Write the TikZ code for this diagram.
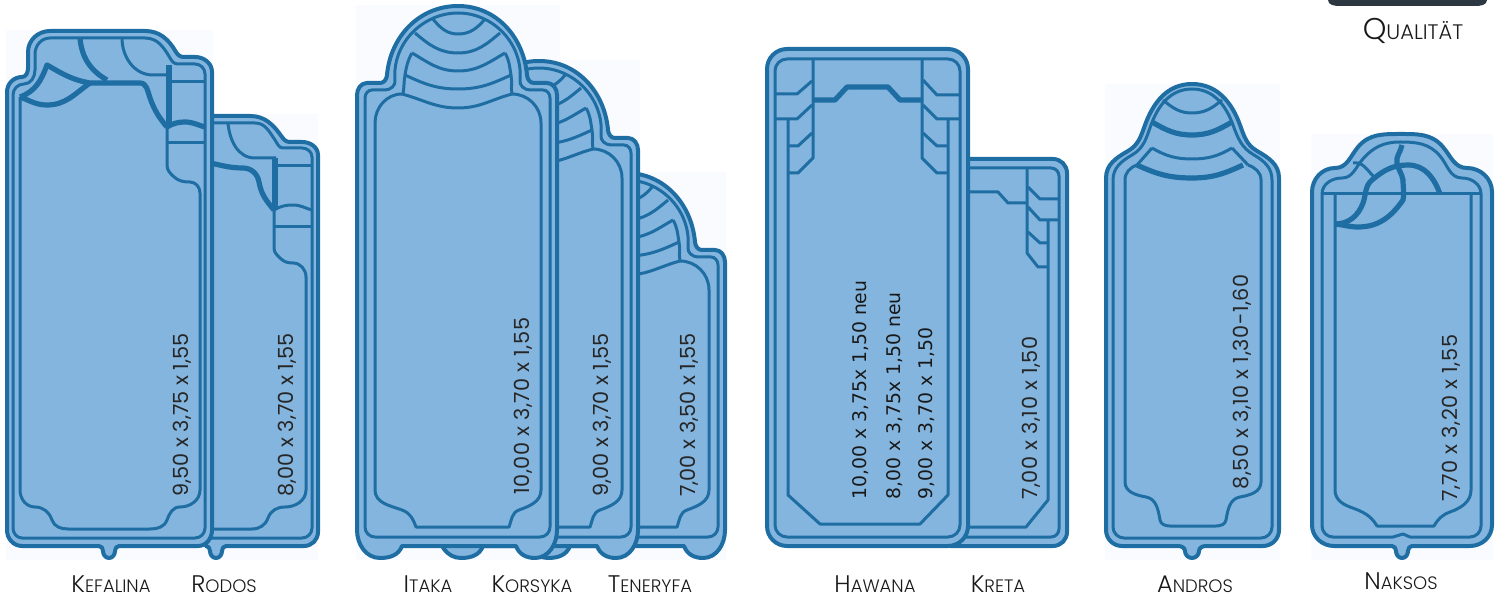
\documentclass[tikz,border=0pt]{standalone}
\usepackage{fontspec}
\setmainfont{Poppins}[UprightFont=* Light]
\newfontfamily\dimfont{Poppins}
\newfontfamily\dimwidefont{Poppins}[LetterSpace=2.4]
\newfontfamily\hawanafont{DejaVu Sans}
\definecolor{poolfill}{HTML}{84B5DE}
\definecolor{poolline}{HTML}{1E6EA3}
\definecolor{paperfill}{HTML}{FAFBFF}
\definecolor{boxdark}{HTML}{2C3742}
\tikzset{
	poolout/.style={draw=poolline,fill=poolfill,line width=2pt,line join=round},
	poolin/.style={draw=poolline,line width=1.5pt,line join=round},
	poolthick/.style={draw=poolline,line width=2.6pt,line join=round},
	dimtext/.style={rotate=90,anchor=west,inner sep=0pt,text=black!85,font=\dimfont\fontsize{10.4}{12}\selectfont},
	dimwide/.style={dimtext,font=\dimwidefont\fontsize{10.4}{12}\selectfont},
	hawanatext/.style={rotate=90,anchor=west,inner sep=0pt,text=black!90,font=\hawanafont\fontsize{9.4}{11}\selectfont},
	poolname/.style={inner sep=0pt,text=black!90}
}
\newcommand{\capname}[2]{{\fontsize{12}{14}\selectfont #1}{\fontsize{9}{14}\selectfont #2}}
\newcommand{\archpool}[2]{
	\begin{scope}[shift={(#1,#2)}]
		\draw[poolout] (357,95) to[out=90,in=180] (367,83) -- (380,83) to[out=0,in=-95] (387,75) to[out=85,in=180] (458,6) to[out=0,in=95] (527,75) to[out=-85,in=180] (534,83) -- (547,83) to[out=0,in=90] (557,95) -- (557,{530-#2}) to[out=-90,in=0] (535,{558-#2}) to[out=180,in=-70] (516,{546-#2}) -- (402,{546-#2}) to[out=-110,in=0] (380,{558-#2}) to[out=180,in=-90] (357,{530-#2}) -- cycle;
		\draw[poolin] (365,98) to[out=90,in=180] (372,90) -- (385,90) to[out=0,in=-80] (395,80) to[out=95,in=180] (458,13) to[out=0,in=85] (520,80) to[out=-100,in=180] (530,90) -- (543,90) to[out=0,in=90] (550,98) -- (550,{527-#2}) to[out=-90,in=0] (540,{537-#2}) -- (375,{537-#2}) to[out=180,in=-90] (365,{527-#2}) -- cycle;
		\draw[poolin] (375,{490-#2}) -- (375,123) to[out=90,in=180] (402,94) to[out=-15,in=180] (458,108) to[out=0,in=195] (512,94) to[out=0,in=90] (541,123) -- (541,{490-#2}) to[out=-90,in=20] (519,{510-#2}) to[out=-160,in=70] (509,{527-#2}) -- (416,{527-#2}) to[out=110,in=-20] (402,{510-#2}) to[out=160,in=-90] (375,{490-#2});
		\draw[poolin] (432,18) to[out=-50,in=180] (458,34) to[out=0,in=-130] (485,19);
		\draw[poolin] (415,33) to[out=-40,in=180] (458,53) to[out=0,in=-140] (500,33);
		\draw[poolin] (403,94) to[out=80,in=-100] (405,75) to[out=80,in=-120] (412,53);
		\draw[poolin] (512,94) to[out=100,in=-80] (511,75) to[out=100,in=-60] (505,53);
		\draw[poolin] (412,53) to[out=-30,in=180] (458,71) to[out=0,in=-150] (505,53);
		\draw[poolin] (405,75) to[out=-25,in=180] (458,89) to[out=0,in=-155] (511,75);
	\end{scope}
}
\begin{document}
\begin{tikzpicture}[x=0.5pt,y=-0.5pt]
	\useasboundingbox (0,0) rectangle (1498,598);
	\fill[paperfill] (6,30) rectangle (213,560);
	\fill[paperfill] (213,114) rectangle (318,560);
	\fill[paperfill] (356,5) rectangle (560,560);
	\fill[paperfill] (560,60) rectangle (640,560);
	\fill[paperfill] (640,172) rectangle (726,560);
	\fill[paperfill] (1105,84) rectangle (1280,560);
	\fill[paperfill] (1311,134) rectangle (1493,560);

	% rodos
	\draw[poolout] (205,116) -- (250,116) to[out=0,in=125] (282,137) to[out=-55,in=180] (290,142) -- (302,142) to[out=0,in=90] (318,155) -- (318,532) to[out=-90,in=0] (304,546) -- (226,546) to[out=180,in=90] (222,551) to[out=-90,in=0] (216,558) to[out=180,in=-90] (210,551) to[out=90,in=0] (206,546) -- cycle;
	\draw[poolin] (205,123) -- (255,123) to[out=0,in=125] (275,140) to[out=-55,in=180] (283,148) -- (302,148) to[out=0,in=90] (312,157) -- (312,528) to[out=-90,in=0] (302,538) -- (205,538);
	\draw[poolin] (205,529) -- (252,529) to[out=0,in=-110] (268,518) to[out=70,in=180] (285,507) to[out=0,in=-90] (306,490) -- (306,277) to[out=90,in=0] (293,263) to[out=180,in=-45] (280,258) to[out=135,in=-90] (274,248) -- (274,210);
	\draw[poolthick] (205,162) to[out=-10,in=180] (243,168) to[out=0,in=100] (259,182) to[out=-80,in=130] (274,210);
	\draw[poolin] (228,123) to[out=-85,in=180] (255,158) -- (276,158);
	\draw[poolthick] (275,158) -- (275,210);
	\draw[poolin] (278,166) -- (312,166);
	\draw[poolin] (274,210) to[out=30,in=180] (293,205) to[out=0,in=165] (312,210);
	\draw[poolin] (275,227) -- (312,227);

	% kefalina
	\draw[poolout] (7,530) -- (7,92) to[out=90,in=180] (22,77) to[out=0,in=-90] (28,68) -- (28,52) to[out=90,in=180] (50,31) -- (145,31) to[out=0,in=120] (176,52) to[out=-60,in=180] (184,57) -- (195,57) to[out=0,in=90] (212,72) -- (212,530) to[out=-90,in=0] (198,546) -- (119,546) to[out=180,in=90] (115,551) to[out=-90,in=0] (109,558) to[out=180,in=-90] (103,551) to[out=90,in=0] (99,546) -- (22,546) to[out=180,in=-90] (7,530) -- cycle;
	\draw[poolin] (13,528) -- (13,95) to[out=90,in=180] (24,84) to[out=0,in=-90] (35,70) -- (35,54) to[out=90,in=180] (50,38) -- (145,38) to[out=0,in=120] (170,58) to[out=-60,in=180] (178,64) -- (195,64) to[out=0,in=90] (205,74) -- (205,528) to[out=-90,in=0] (195,538) -- (22,538) to[out=180,in=-90] (13,528) -- cycle;
	\draw[poolin] (20,97) -- (20,490) to[out=-90,in=180] (35,507) to[out=0,in=110] (52,520) to[out=-70,in=180] (68,529) -- (150,529) to[out=0,in=-110] (167,520) to[out=70,in=180] (180,507) to[out=0,in=-90] (200,490) -- (200,193) to[out=90,in=0] (190,182) to[out=180,in=-45] (173,176) to[out=135,in=-90] (167,165) -- (167,127);
	\draw[poolthick] (20,97) to[out=20,in=-110] (47,65) to[out=-30,in=170] (90,83) -- (140,83) to[out=0,in=110] (150,98) to[out=-70,in=130] (167,127);
	\draw[poolthick] (20,97) to[out=-20,in=180] (47,105) to[out=0,in=-145] (90,83);
	\draw[poolthick] (80,38) to[out=-85,in=150] (107,80);
	\draw[poolin] (122,38) to[out=-90,in=180] (153,75) -- (170,75);
	\draw[poolthick] (169,65) -- (169,127);
	\draw[poolin] (172,82) -- (205,82);
	\draw[poolthick] (167,127) to[out=30,in=180] (185,122) to[out=0,in=165] (205,127);
	\draw[poolin] (168,143) -- (205,143);

	\archpool{168}{167}
	\archpool{81}{55}
	\archpool{0}{0}

	% kreta
	\draw[poolout,rounded corners=7pt] (950,159) -- (1067,159) -- (1067,546) -- (950,546);
	\draw[poolin,rounded corners=4pt] (950,168) -- (1059,168) -- (1059,537) -- (950,537);
	\draw[poolin] (950,527) -- (1026,527) -- (1048,500) -- (1048,220);
	\draw[poolin] (1027,168) -- (1027,253) -- (1038,267) -- (1048,267);
	\draw[poolin] (1028,187) -- (1040,199) -- (1059,199);
	\draw[poolin] (1028,207) -- (1040,220) -- (1059,220);
	\draw[poolin] (1028,232) -- (1040,243) -- (1048,243);
	\draw[poolin] (950,192) -- (998,192) -- (1008,203) -- (1027,203);

	% hawana
	\draw[poolout,rounded corners=10pt] (767,546) -- (767,49) -- (968,49) -- (968,546) -- cycle;
	\draw[poolin,rounded corners=6pt] (775,537) -- (775,59) -- (960,59) -- (960,537) -- cycle;
	\draw[poolin] (788,119) -- (788,495) -- (820,524) -- (920,524) -- (948,495) -- (948,119);
	\draw[poolin] (813,59) -- (813,158) -- (798,173) -- (788,173);
	\draw[poolin] (922,59) -- (922,158) -- (937,173) -- (948,173);
	\draw[poolin] (776,94) -- (797,94) -- (812,81);
	\draw[poolin] (776,119) -- (797,119) -- (812,105);
	\draw[poolin] (788,146) -- (798,146) -- (812,133);
	\draw[poolin] (923,80) -- (937,95) -- (960,95);
	\draw[poolin] (923,105) -- (937,119) -- (960,119);
	\draw[poolin] (923,133) -- (937,146) -- (948,146);
	\draw[poolthick] (813,100) -- (835,100) -- (847,87) -- (888,87) -- (900,100) -- (922,100);

	% andros
	\draw[poolout] (1106,530) -- (1106,178) to[out=90,in=-150] (1128,151) to[out=30,in=-110] (1145,125) to[out=70,in=180] (1192,84) to[out=0,in=110] (1240,125) to[out=-70,in=150] (1257,151) to[out=-30,in=90] (1279,178) -- (1279,530) to[out=-90,in=0] (1263,546) -- (1206,546) to[out=180,in=90] (1199,551) to[out=-90,in=0] (1192,558) to[out=180,in=-90] (1185,551) to[out=90,in=0] (1178,546) -- (1122,546) to[out=180,in=-90] (1106,530) -- cycle;
	\draw[poolin] (1113,527) -- (1113,180) to[out=90,in=-150] (1132,155) to[out=30,in=-110] (1151,125) to[out=70,in=180] (1192,89) to[out=0,in=110] (1233,125) to[out=-70,in=150] (1254,155) to[out=-30,in=90] (1272,180) -- (1272,527) to[out=-90,in=0] (1261,538) -- (1124,538) to[out=180,in=-90] (1113,527) -- cycle;
	\draw[poolin] (1137,165) to[out=-160,in=90] (1125,180) -- (1125,482) to[out=-90,in=170] (1146,497) to[out=-10,in=100] (1160,520) to[out=-80,in=180] (1170,526) -- (1216,526) to[out=0,in=-100] (1226,520) to[out=80,in=-170] (1240,497) to[out=10,in=-90] (1261,482) -- (1261,180) to[out=90,in=-20] (1248,165);
	\draw[poolthick] (1137,165) to[out=-25,in=180] (1192,178) to[out=0,in=-155] (1243,165);
	\draw[poolin] (1163,100) to[out=-40,in=180] (1192,113) to[out=0,in=-140] (1222,100);
	\draw[poolthick] (1152,122) to[out=-30,in=180] (1192,135) to[out=0,in=-150] (1232,122);
	\draw[poolin] (1152,148) to[out=-30,in=180] (1192,159) to[out=0,in=-150] (1232,148);
	\draw[poolin] (1152,148) -- (1137,165);
	\draw[poolin] (1232,148) -- (1248,165);

	% naksos
	\draw[poolout] (1312,525) -- (1312,192) to[out=90,in=180] (1335,168) to[out=0,in=-130] (1358,147) to[out=50,in=180] (1400,134) to[out=0,in=130] (1443,147) to[out=-50,in=180] (1467,168) to[out=0,in=90] (1492,192) -- (1492,525) to[out=-90,in=0] (1470,546) -- (1412,546) to[out=180,in=90] (1408,551) to[out=-90,in=0] (1402,558) to[out=180,in=-90] (1396,551) to[out=90,in=0] (1392,546) -- (1334,546) to[out=180,in=-90] (1312,525) -- cycle;
	\draw[poolin] (1322,194) to[out=90,in=180] (1342,178) to[out=0,in=-130] (1362,160) to[out=50,in=180] (1400,142) to[out=0,in=130] (1440,156) to[out=-50,in=180] (1462,178) to[out=0,in=90] (1481,194) -- (1481,526) to[out=-90,in=0] (1470,537) -- (1410,537) -- (1403,534) -- (1393,537) -- (1333,537) to[out=180,in=-90] (1322,526) -- cycle;
	\draw[poolin] (1322,194) -- (1481,194);
	\draw[poolin] (1335,194) -- (1335,490) to[out=-90,in=160] (1350,507) to[out=-20,in=120] (1377,526) -- (1434,526) to[out=60,in=-160] (1450,512) to[out=20,in=-90] (1471,490) -- (1471,194);
	\draw[poolthick] (1335,224) to[out=0,in=-110] (1363,203) to[out=70,in=-140] (1372,180) to[out=40,in=180] (1408,165) to[out=0,in=110] (1440,194);
	\draw[poolthick] (1335,224) to[out=-5,in=180] (1358,227) to[out=0,in=-125] (1403,200) to[out=80,in=-90] (1403,180) to[out=100,in=-80] (1397,163) to[out=100,in=-100] (1402,145);
	\draw[poolin] (1353,163) to[out=10,in=135] (1374,177);

	% qualitaet box
	\fill[boxdark] (1328,0) -- (1487,0) to[out=-90,in=0] (1475,6) -- (1340,6) to[out=180,in=-90] (1328,0) -- cycle;

	\node[dimtext] (dimkefalina) at (182,497) {9,50 x 3,75 x 1,55};
	\node[dimtext] (dimrodos) at (287,497) {8,00 x 3,70 x 1,55};
	\node[dimwide] (dimitaka) at (523,495) {10,00 x 3,70 x 1,55};
	\node[dimtext] (dimkorsyka) at (602,497) {9,00 x 3,70 x 1,55};
	\node[dimtext] (dimteneryfa) at (689,497) {7,00 x 3,50 x 1,55};
	\node[hawanatext] (dimhawanaa) at (861,500) {10,00 x 3,75x 1,50 neu};
	\node[hawanatext] (dimhawanab) at (895,500) {8,00 x 3,75x 1,50 neu};
	\node[hawanatext] (dimhawanac) at (927,500) {9,00 x 3,70 x 1,50};
	\node[dimwide] (dimkreta) at (1031,500) {7,00 x 3,10 x 1,50};
	\node[dimwide] (dimandros) at (1242,490) {8,50 x 3,10 x 1,30-1,60};
	\node[dimwide] (dimnaksos) at (1451,502) {7,70 x 3,20 x 1,55};

	\node[poolname] (kefalina) at (111,584) {\capname{K}{EFALINA}};
	\node[poolname] (rodos) at (224,584) {\capname{R}{ODOS}};
	\node[poolname] (itaka) at (428,584) {\capname{I}{TAKA}};
	\node[poolname] (korsyka) at (532,584) {\capname{K}{ORSYKA}};
	\node[poolname] (teneryfa) at (650,584) {\capname{T}{ENERYFA}};
	\node[poolname] (hawana) at (875,584) {\capname{H}{AWANA}};
	\node[poolname] (kreta) at (998,584) {\capname{K}{RETA}};
	\node[poolname] (andros) at (1195,584) {\capname{A}{NDROS}};
	\node[poolname] (naksos) at (1401,581) {\capname{N}{AKSOS}};
	\node[poolname] (qualitaet) at (1413,31) {{\fontsize{15}{18}\selectfont Q}{\fontsize{10.5}{18}\selectfont UALITÄT}};
\end{tikzpicture}
\end{document}
